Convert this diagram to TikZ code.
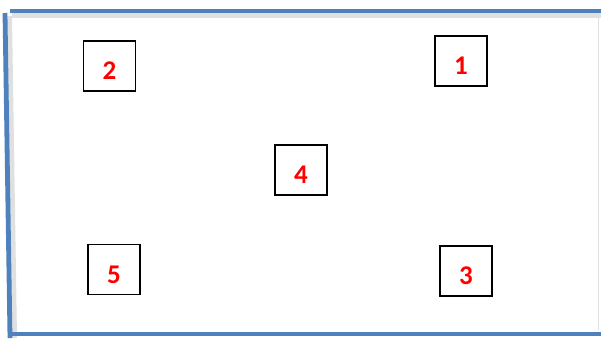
\documentclass[tikz,border=0pt]{standalone}
\usepackage{fontspec}
\setmainfont{Carlito}
\definecolor{frameblue}{RGB}{79,129,189}
\begin{document}
\begin{tikzpicture}[x=1pt,y=-1pt,
  numbox/.style={draw=black,line width=1.8pt,minimum width=52pt,minimum height=50pt,inner sep=0pt,
    text height=27pt,text depth=0pt,
    font=\fontsize{27}{27}\selectfont\bfseries,text=red},
  frameline/.style={draw=frameblue,line width=4.8pt},
  shadowline/.style={draw=black!12,line width=6pt}]
\useasboundingbox (0,0) rectangle (601,338);
\fill[white] (0,0) rectangle (601,338);
% shadows
\draw[shadowline] (12,15) -- (601,15);
\draw[shadowline] (9,16) -- (14,338);
\draw[black!12,line width=0.6pt] (598,15) -- (598,330);
% frame
\draw[frameline] (10,11) -- (601,11);
\draw[frameline] (5,13) -- (10,338);
\draw[frameline] (8,334) -- (601,334);
% boxes
\node[numbox] (n2) at (109.5,66) {2};
\node[numbox] (n1) at (461,61) {1};
\node[numbox] (n4) at (301,170) {4};
\node[numbox] (n5) at (114,269.5) {5};
\node[numbox] (n3) at (466,271) {3};
\end{tikzpicture}
\end{document}
